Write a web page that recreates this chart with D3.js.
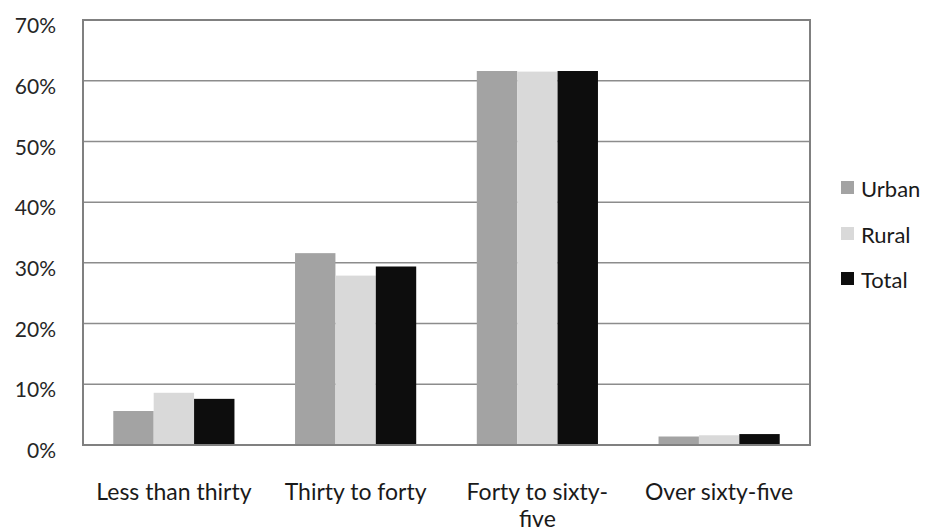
<!DOCTYPE html>
<html><head><meta charset="utf-8">
<script src="https://cdn.jsdelivr.net/npm/d3@7"></script>
<style>body{margin:0;background:#fff}svg{display:block}</style>
</head><body>
<script>
const categories = ["Less than thirty", "Thirty to forty", "Forty to sixty-five", "Over sixty-five"];
const categoryLines = [["Less than thirty"], ["Thirty to forty"], ["Forty to sixty-", "five"], ["Over sixty-five"]];
const seriesNames = ["Urban", "Rural", "Total"];
const urban = [5.6, 31.6, 61.6, 1.4];
const rural = [8.6, 27.9, 61.5, 1.6];
const total = [7.6, 29.4, 61.6, 1.8];
const seriesColors = ["#a3a3a3", "#d9d9d9", "#0d0d0d"];
const yTicks = [0, 10, 20, 30, 40, 50, 60, 70];

const W = 928, H = 531;
const m = {left: 83, right: 118, top: 20, bottom: 86};
const font = "Lato, 'Open Sans', sans-serif";
const svg = d3.select("body").append("svg").attr("width", W).attr("height", H);

const x = d3.scaleBand().domain(categories).range([m.left, W - m.right]).paddingInner(1/3).paddingOuter(1/6);
const xs = d3.scaleBand().domain(seriesNames).range([0, x.bandwidth()]);
const y = d3.scaleLinear().domain([0, 70]).range([H - m.bottom, m.top]);

// gridlines
svg.append("g").selectAll("line").data(yTicks).join("line")
  .attr("x1", m.left).attr("x2", W - m.right)
  .attr("y1", d => y(d)).attr("y2", d => y(d))
  .attr("stroke", "#8c8c8c").attr("stroke-width", 1.5);

const data = [urban, rural, total];
const g = svg.append("g");
seriesNames.forEach((s, si) => {
  g.append("g").selectAll("rect").data(categories).join("rect")
    .attr("x", (c) => x(c) + xs(s))
    .attr("width", xs.bandwidth())
    .attr("y", (c, i) => y(data[si][i]))
    .attr("height", (c, i) => y(0) - y(data[si][i]))
    .attr("fill", seriesColors[si]);
});

// plot border
svg.append("rect").attr("x", m.left).attr("y", m.top)
  .attr("width", W - m.right - m.left).attr("height", H - m.bottom - m.top)
  .attr("fill", "none").attr("stroke", "#808080").attr("stroke-width", 2);

// y axis labels
const yAxis = d3.axisLeft(y).tickValues(yTicks).tickFormat(d => d + "%").tickSize(0).tickPadding(27);
const ya = svg.append("g").attr("transform", `translate(${m.left},0)`).call(yAxis);
ya.select(".domain").remove();
ya.selectAll("text").attr("font-family", font).attr("font-size", 21).attr("fill", "#262626")
  .attr("dy", "0.6em");

// x axis labels
const xa = svg.append("g").attr("transform", `translate(0,${H - m.bottom})`)
  .call(d3.axisBottom(x).tickSize(0).tickFormat(""));
xa.select(".domain").remove();
xa.selectAll(".tick").each(function(c, i) {
  const t = d3.select(this).append("text").attr("font-family", font).attr("font-size", 23)
    .attr("fill", "#1a1a1a").attr("text-anchor", "middle");
  categoryLines[i].forEach((ln, li) => {
    t.append("tspan").attr("x", 0).attr("y", 55 + li * 27).text(ln);
  });
});

// legend
const lg = svg.append("g").attr("transform", "translate(841,0)");
const ly = [197, 243, 288];
seriesNames.forEach((s, i) => {
  lg.append("rect").attr("x", 0).attr("y", ly[i] - 16).attr("width", 13).attr("height", 13).attr("fill", seriesColors[i]);
  lg.append("text").attr("x", 20).attr("y", ly[i]).attr("font-family", font).attr("font-size", 22)
    .attr("fill", "#1a1a1a").text(s);
});
</script>
</body></html>
